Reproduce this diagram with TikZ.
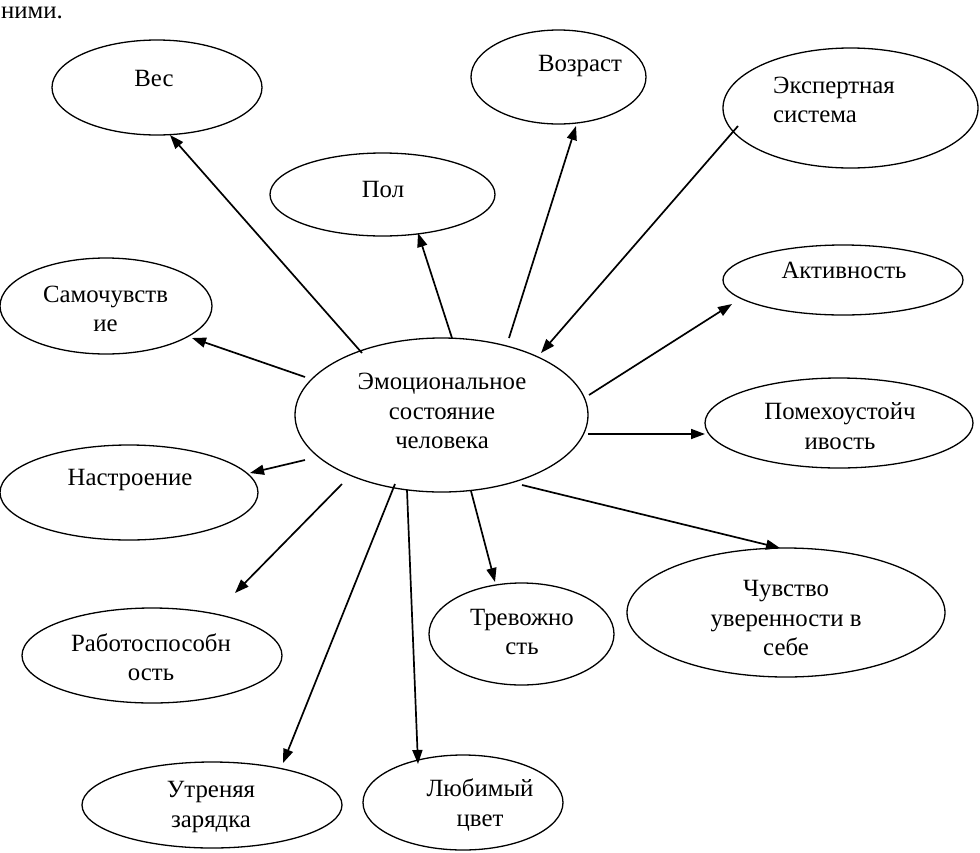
\documentclass[tikz,border=0pt]{standalone}
\usepackage{fontspec}
\setmainfont{Liberation Serif}
\newfontfamily\lserif{Liberation Serif}
\usetikzlibrary{shapes.geometric,arrows.meta,calc}
\tikzset{
  ell/.style={draw, shape=ellipse, line width=1.3pt, inner sep=0pt},
  txt/.style={font=\lserif\fontsize{24.8}{29.5}\selectfont, align=center, inner sep=0pt},
  arr/.style={line width=1.7pt, -{Triangle[length=14pt,width=10pt]}}
}
\begin{document}
\begin{tikzpicture}[x=1pt,y=-1pt]
\useasboundingbox (0,0) rectangle (980,852);
\node[txt, anchor=base west, text height=11pt] (top) at (1,18) {ними.};
% ellipses
\node[ell, minimum width=210pt, minimum height=95pt] (ves) at (157,87.5) {};
\node[ell, minimum width=175pt, minimum height=94pt] (voz) at (558.5,77) {};
\node[ell, minimum width=255pt, minimum height=120pt] (exp) at (850.5,108) {};
\node[ell, minimum width=225pt, minimum height=83pt] (pol) at (382.5,194.5) {};
\node[ell, minimum width=212pt, minimum height=96pt] (sam) at (106,306) {};
\node[ell, minimum width=240pt, minimum height=70pt] (akt) at (843,280) {};
\node[ell, minimum width=268pt, minimum height=90pt] (pom) at (839,423) {};
\node[ell, minimum width=293pt, minimum height=154pt] (c) at (441.5,415) {};
\node[ell, minimum width=258pt, minimum height=95pt] (nas) at (129,492.5) {};
\node[ell, minimum width=260pt, minimum height=95pt] (rab) at (152,655.5) {};
\node[ell, minimum width=185pt, minimum height=102pt] (trev) at (521.5,634) {};
\node[ell, minimum width=318pt, minimum height=129pt] (chu) at (786,612.5) {};
\node[ell, minimum width=260pt, minimum height=86pt] (utr) at (212,805) {};
\node[ell, minimum width=200pt, minimum height=95pt] (lyub) at (463,802.5) {};
% texts
\node[txt] (tves) at (154,78) {Вес};
\node[txt] (tvoz) at (580,66) {Возраст};
\node[txt, align=left, anchor=west] (texp) at (773,100) {Экспертная\\система};
\node[txt] (tpol) at (383,189) {Пол};
\node[txt] (tsam) at (105.5,309) {Самочувств\\ие};
\node[txt] (takt) at (844,270) {Активность};
\node[txt] (tpom) at (840,426) {Помехоустойч\\ивость};
\node[txt] (tc) at (442,411) {Эмоциональное\\состояние\\человека};
\node[txt] (tnas) at (130,480) {Настроение};
\node[txt] (trab) at (151,657) {Работоспособн\\ость};
\node[txt] (ttrev) at (522,632) {Тревожно\\сть};
\node[txt] (tchu) at (786,618) {Чувство\\уверенности в\\себе};
\node[txt] (tutr) at (211,807) {Утреняя\\зарядка};
\node[txt] (tlyub) at (480,805) {Любимый\\цвет};
% arrows
\draw[arr] ($(c)+(-79.5,-62)$) -- ($(ves)+(13,47.5)$);
\draw[arr] ($(c)+(10.5,-77)$) -- ($(pol)+(35.5,38.5)$);
\draw[arr] ($(c)+(67.5,-77)$) -- ($(voz)+(17.5,49)$);
\draw[arr] ($(exp)+(-112.5,18)$) -- ($(c)+(99.5,-62)$);
\draw[arr] ($(c)+(147.5,-20)$) -- ($(akt)+(-111,24)$);
\draw[arr] ($(c)+(146.5,19)$) -- ($(pom)+(-134,11)$);
\draw[arr] ($(c)+(80.5,70)$) -- ($(chu)+(-6,-64.5)$);
\draw[arr] ($(c)+(29.5,76)$) -- ($(trev)+(-26.5,-52)$);
\draw[arr] ($(c)+(-34.5,75)$) -- ($(lyub)+(-45,-38.5)$);
\draw[arr] ($(c)+(-46.5,69)$) -- ($(utr)+(71,-42)$);
\draw[arr] ($(c)+(-99.5,69)$) -- ($(rab)+(83,-62.5)$);
\draw[arr] ($(c)+(-136.5,45)$) -- ($(nas)+(121,-19.5)$);
\draw[arr] ($(c)+(-136.5,-38)$) -- ($(sam)+(86,32)$);
\end{tikzpicture}
\end{document}
